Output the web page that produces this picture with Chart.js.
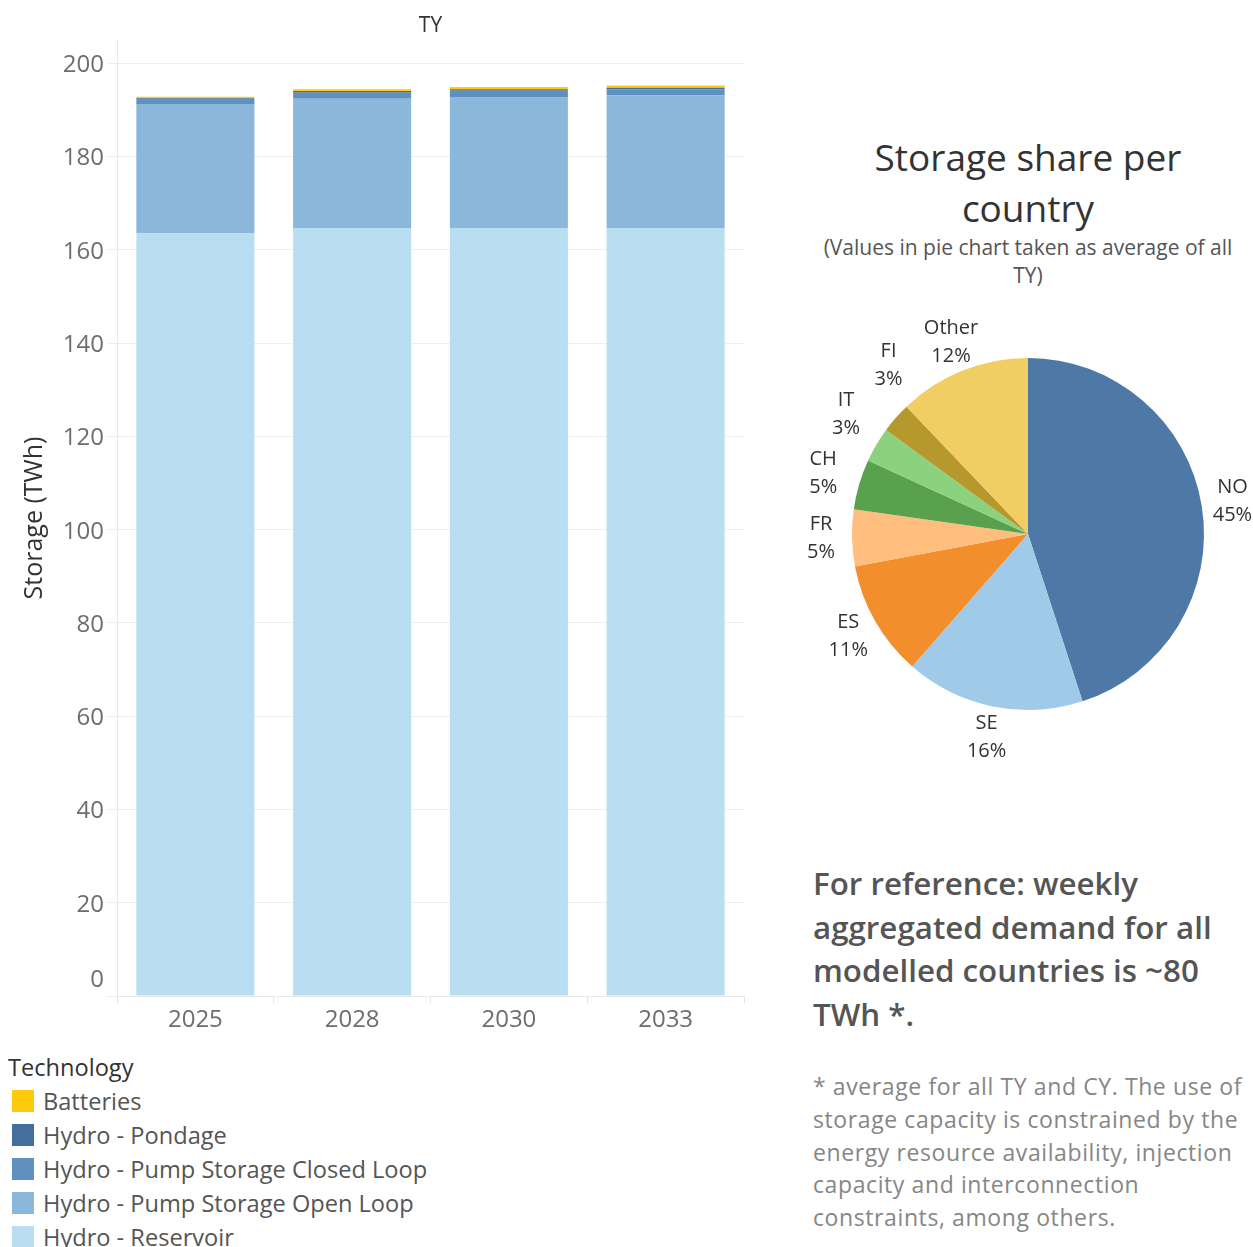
<!DOCTYPE html>
<html>
<head>
<meta charset="utf-8">
<script src="https://cdn.jsdelivr.net/npm/chart.js@4.4.1/dist/chart.umd.min.js"></script>
<style>
  body { margin: 0; width: 1253px; height: 1247px; overflow: hidden; background: #fff; font-family: "Open Sans", sans-serif; position: relative; }
  #barChart { position: absolute; left: 0; top: 0; }
  #pieChart { position: absolute; left: 788px; top: 294px; }
  .pie-title { position: absolute; left: 778px; width: 500px; text-align: center; color: #333; font-size: 37px; line-height: 51px; top: 131px; }
  .pie-sub { position: absolute; left: 778px; width: 500px; text-align: center; color: #555; font-size: 21px; line-height: 28px; top: 233px; }
  .note { position: absolute; left: 813px; top: 862px; color: #555; font-size: 31.3px; font-weight: 600; line-height: 43.7px; }
  .foot { position: absolute; left: 813px; top: 1070px; color: #868686; font-size: 23px; letter-spacing: 0.6px; line-height: 32.8px; white-space: nowrap; }
  .legend { position: absolute; left: 8px; top: 1050px; color: #555; font-size: 23.6px; }
  .legend .ttl { color: #333; height: 34px; line-height: 34px; }
  .legend .row { height: 34px; line-height: 34px; display: flex; align-items: center; }
  .legend .sw { width: 22px; height: 22px; margin-left: 4px; margin-right: 9px; }
</style>
</head>
<body>
<canvas id="barChart" width="760" height="1045"></canvas>
<canvas id="pieChart" width="480" height="480"></canvas>

<div class="pie-title">Storage share per<br>country</div>
<div class="pie-sub">(Values in pie chart taken as average of all<br>TY)</div>

<div class="note">For reference: weekly<br>aggregated demand for all<br>modelled countries is ~80<br>TWh *.</div>
<div class="foot">* average for all TY and CY. The use of<br>storage capacity is constrained by the<br>energy resource availability, injection<br>capacity and interconnection<br>constraints, among others.</div>

<div class="legend" id="legend"></div>

<script>
// TY categories
const years = ['2025', '2028', '2030', '2033'];

// stored energy per technology (TWh), bottom to top of each stack
const reservoir = [163.6, 164.7, 164.7, 164.7];
const openLoop = [27.7, 27.7, 28.1, 28.4];
const closedLoop = [0.9, 1.3, 1.3, 1.3];
const pondage = [0.3, 0.35, 0.35, 0.35];
const batteries = [0.35, 0.4, 0.45, 0.5];

const yTicks = [0, 20, 40, 60, 80, 100, 120, 140, 160, 180, 200];

// pie: average share per country (%)
const countries = ['NO', 'SE', 'ES', 'FR', 'CH', 'IT', 'FI', 'Other'];
const shares = [44.9, 16.4, 10.6, 5.2, 4.6, 3.2, 2.8, 12.1];
const shareLabels = ['45%', '16%', '11%', '5%', '5%', '3%', '3%', '12%'];
const countryColors = ['#4e79a7', '#a0cbe8', '#f28e2b', '#ffbe7d', '#59a14f', '#8cd17d', '#b6992d', '#f1ce63'];

const techs = [
    { label: 'Batteries', data: batteries, color: '#ffc90e' },
    { label: 'Hydro - Pondage', data: pondage, color: '#426f9e' },
    { label: 'Hydro - Pump Storage Closed Loop', data: closedLoop, color: '#5f90bf' },
    { label: 'Hydro - Pump Storage Open Loop', data: openLoop, color: '#8bb7da' },
    { label: 'Hydro - Reservoir', data: reservoir, color: '#b9ddf1' }
];

const tickColor = '#6d6d6d';
const gridColor = '#efefef';

// legend, same order as Tableau's
const legendEl = document.getElementById('legend');
legendEl.innerHTML = '<div class="ttl">Technology</div>' + techs.map(t =>
    `<div class="row"><span class="sw" style="background:${t.color}"></span>${t.label}</div>`
).join('');

// title over plot + raised "0" label like Tableau
const barExtras = {
    id: 'barExtras',
    afterDraw(chart) {
        const ctx = chart.ctx;
        const area = chart.chartArea;
        const y = chart.scales.y;
        ctx.save();
        ctx.fillStyle = '#333';
        ctx.font = '21px "Open Sans"';
        ctx.textAlign = 'center';
        ctx.textBaseline = 'middle';
        ctx.fillText('TY', (area.left + area.right) / 2, 26);
        ctx.fillStyle = tickColor;
        ctx.font = '24px "Open Sans"';
        ctx.textAlign = 'right';
        ctx.fillText('0', y.right - 13, y.getPixelForValue(0) - 16);
        ctx.restore();
    }
};

new Chart(document.getElementById('barChart'), {
    type: 'bar',
    data: {
        labels: years,
        datasets: techs.slice().reverse().map(t => ({
            label: t.label,
            data: t.data,
            backgroundColor: t.color,
            borderWidth: 0,
            categoryPercentage: 0.753,
            barPercentage: 1
        }))
    },
    options: {
        responsive: false,
        animation: false,
        layout: { padding: { top: 40, right: 16, left: 0, bottom: 0 } },
        plugins: { legend: { display: false }, tooltip: { enabled: false } },
        scales: {
            x: {
                stacked: true,
                afterFit: s => { s.height = 49; },
                grid: { offset: true, drawOnChartArea: false, drawTicks: true, tickLength: 7, color: '#e4e4e4' },
                border: { color: '#e8e8e8' },
                ticks: { color: tickColor, font: { family: 'Open Sans', size: 24 }, padding: 3 }
            },
            y: {
                stacked: true,
                min: 0,
                max: 205,
                afterFit: s => { s.width = 117; },
                afterBuildTicks: s => { s.ticks = yTicks.map(v => ({ value: v })); },
                grid: { color: gridColor, tickLength: 10 },
                border: { color: '#e8e8e8' },
                ticks: {
                    color: tickColor,
                    font: { family: 'Open Sans', size: 24 },
                    padding: 3,
                    labelOffset: 2,
                    callback: v => v === 0 ? '' : v
                },
                title: {
                    display: true,
                    text: 'Storage (TWh)',
                    color: '#333',
                    font: { family: 'Open Sans', size: 25 },
                    padding: { top: 20, bottom: 0 }
                }
            }
        }
    },
    plugins: [barExtras]
});

// two-line labels outside each slice, nudged apart when slices are thin
const pieLabels = {
    id: 'pieLabels',
    afterDatasetsDraw(chart) {
        const ctx = chart.ctx;
        const arcs = chart.getDatasetMeta(0).data;
        let prev = -999;
        ctx.save();
        ctx.fillStyle = '#333';
        ctx.font = '20px "Open Sans"';
        ctx.textAlign = 'center';
        ctx.textBaseline = 'middle';
        arcs.forEach((arc, i) => {
            let deg = ((arc.startAngle + arc.endAngle) / 2) * 180 / Math.PI + 90;
            if (deg < prev + 17) deg = prev + 17;
            prev = deg;
            const a = deg * Math.PI / 180;
            // diagonal labels sit a bit further out
            const r = arc.outerRadius + 31 + 12 * Math.abs(Math.sin(2 * a)) * (i > 3 && i < 7 ? 1 : 0);
            const x = arc.x + r * Math.sin(a);
            const y = arc.y - r * Math.cos(a);
            ctx.fillText(countries[i], x, y - 14);
            ctx.fillText(shareLabels[i], x, y + 14);
        });
        ctx.restore();
    }
};

new Chart(document.getElementById('pieChart'), {
    type: 'pie',
    data: {
        labels: countries,
        datasets: [{ data: shares, backgroundColor: countryColors, borderWidth: 0 }]
    },
    options: {
        responsive: false,
        animation: false,
        layout: { padding: 64 },
        plugins: { legend: { display: false }, tooltip: { enabled: false } }
    },
    plugins: [pieLabels]
});
</script>
</body>
</html>
